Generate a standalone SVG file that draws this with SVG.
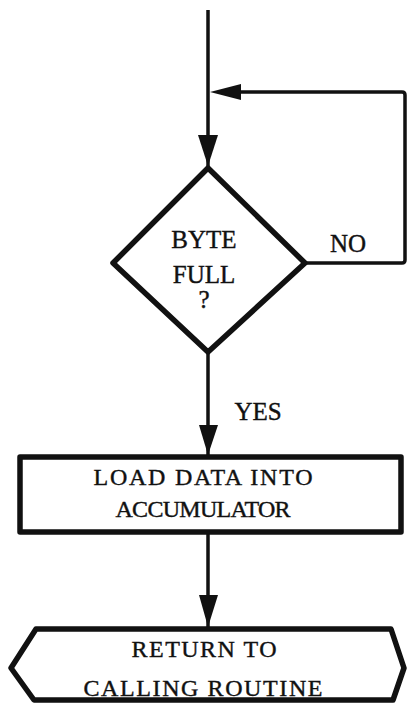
<svg xmlns="http://www.w3.org/2000/svg" width="409" height="704" viewBox="0 0 409 704">
<defs>
<style>
.line{fill:none;stroke:#111;stroke-width:3.5}
.shape{fill:none;stroke:#111;stroke-width:5.5;stroke-linejoin:round}
.head{fill:#111;stroke:none}
.serif{font-family:"Liberation Serif","Times New Roman",serif;font-size:25px;fill:#111;stroke:#111;stroke-width:0.4;text-anchor:middle}
.mono{font-family:"Liberation Serif","Times New Roman",serif;font-size:24px;fill:#111;stroke:#111;stroke-width:0.4;text-anchor:middle}
</style>
</defs>
<rect width="409" height="704" fill="#fff"/>
<g id="connectors">
<path class="line" d="M208,10 V168"/>
<path class="line" d="M305,263 H402 Q405,263 405,260 V95 Q405,92 402,92 H225"/>
<polygon class="head" points="210,92 241,84 241,100"/>
<polygon class="head" points="198,135 218,135 208,166"/>
<path class="line" d="M208,352 V455"/>
<polygon class="head" points="199,425 218,425 208,455"/>
<path class="line" d="M208,533 V627"/>
<polygon class="head" points="199,595 218,595 208,627"/>
</g>
<g id="decision">
<polygon class="shape" points="208,168 305,263 208,352 113,263"/>
<text class="serif" x="204" y="248">BYTE</text>
<text class="serif" x="204" y="283">FULL</text>
<text class="serif" x="204" y="308">?</text>
</g>
<g id="label-no"><text class="serif" x="348" y="252">NO</text></g>
<g id="label-yes"><text class="serif" x="258" y="420">YES</text></g>
<g id="process">
<rect class="shape" x="20" y="457" width="381" height="75"/>
<text class="mono" x="203" y="485" textLength="219" lengthAdjust="spacing">LOAD DATA INTO</text>
<text class="mono" x="203" y="517" textLength="175" lengthAdjust="spacing">ACCUMULATOR</text>
</g>
<g id="terminal">
<polygon class="shape" points="36,629 391,629 404,668 393,700 34,700 11,668"/>
<text class="mono" x="204" y="657" textLength="145" lengthAdjust="spacing">RETURN TO</text>
<text class="mono" x="203" y="696" textLength="239" lengthAdjust="spacing">CALLING ROUTINE</text>
</g>
</svg>
